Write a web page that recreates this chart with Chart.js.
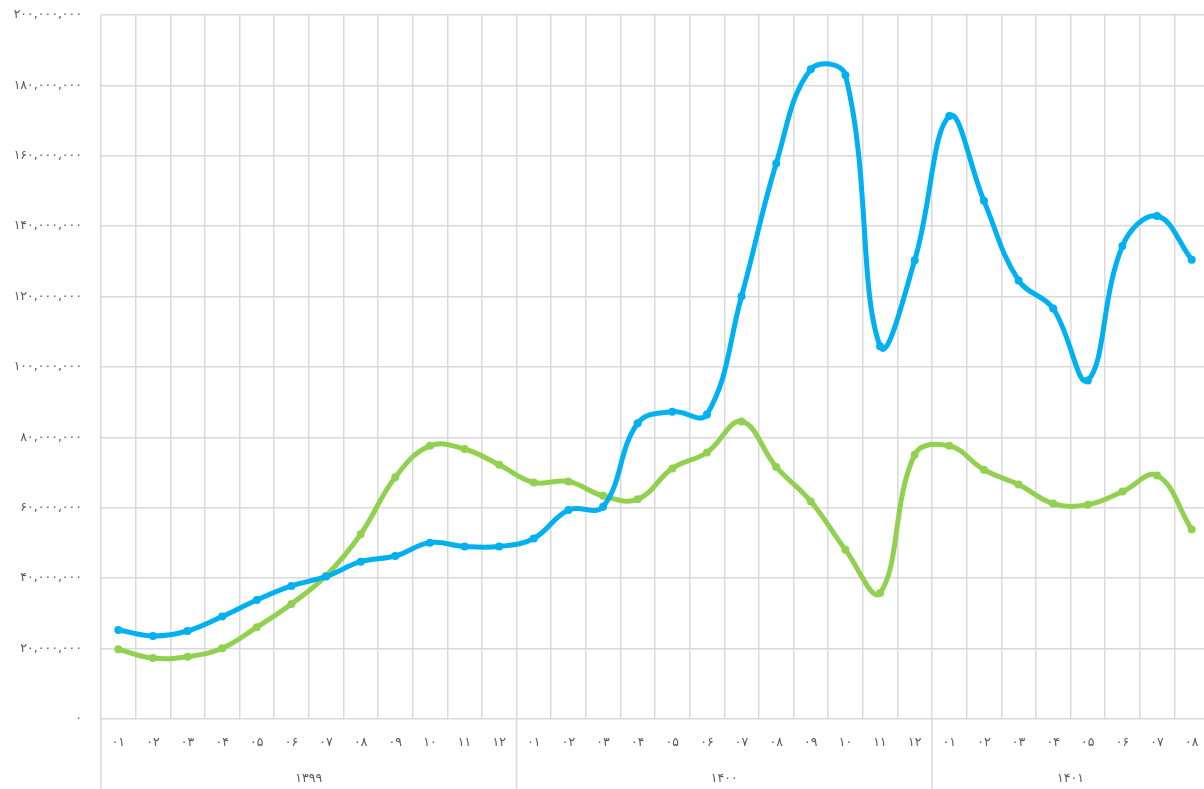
<!DOCTYPE html>
<html>
<head>
<meta charset="utf-8">
<script src="https://cdn.jsdelivr.net/npm/chart.js@4.4.1/dist/chart.umd.min.js"></script>
<style>
  html, body { margin: 0; padding: 0; background: #ffffff; overflow: hidden; }
  #wrap { width: 1204px; height: 789px; overflow: hidden; position: relative; }
  canvas { display: block; }
</style>
</head>
<body>
<div id="wrap"><canvas id="c" width="1209" height="789"></canvas></div>
<script>
// ---- data ----
const monthLabels = [
  '۰۱','۰۲','۰۳','۰۴','۰۵','۰۶','۰۷','۰۸','۰۹','۱۰','۱۱','۱۲',
  '۰۱','۰۲','۰۳','۰۴','۰۵','۰۶','۰۷','۰۸','۰۹','۱۰','۱۱','۱۲',
  '۰۱','۰۲','۰۳','۰۴','۰۵','۰۶','۰۷','۰۸'
];
const groupLabels = ['۱۳۹۹', '۱۴۰۰', '۱۴۰۱'];
const groupSizes = [12, 12, 8];

const blueValues = [
  25300000, 23600000, 25000000, 29100000, 33800000, 37800000, 40500000, 44700000,
  46300000, 50100000, 49000000, 49000000, 51300000, 59400000, 60300000, 84000000,
  87300000, 86500000, 120100000, 157800000, 184600000, 182900000, 105900000, 130300000,
  171300000, 147200000, 124600000, 116600000, 96200000, 134400000, 142900000, 130500000
];
const greenValues = [
  19800000, 17300000, 17700000, 20100000, 26100000, 32700000, 40700000, 52500000,
  68700000, 77600000, 76700000, 72200000, 67200000, 67500000, 63400000, 62400000,
  71200000, 75700000, 84500000, 71600000, 61800000, 48100000, 35800000, 75100000,
  77600000, 70800000, 66600000, 61200000, 60900000, 64600000, 69200000, 53800000
];
const yTickLabels = [
  '۰', '۲۰,۰۰۰,۰۰۰', '۴۰,۰۰۰,۰۰۰', '۶۰,۰۰۰,۰۰۰', '۸۰,۰۰۰,۰۰۰', '۱۰۰,۰۰۰,۰۰۰',
  '۱۲۰,۰۰۰,۰۰۰', '۱۴۰,۰۰۰,۰۰۰', '۱۶۰,۰۰۰,۰۰۰', '۱۸۰,۰۰۰,۰۰۰', '۲۰۰,۰۰۰,۰۰۰'
];
const yMax = 200000000;
const yStep = 20000000;

const FONT = "'DejaVu Sans', sans-serif";
const TEXT = '#595959';
const GRID = '#d9d9d9';

const groupPlugin = {
  id: 'groupPlugin',
  afterDraw(chart) {
    const x = chart.scales.x;
    const ctx = chart.ctx;
    const area = chart.chartArea;
    const w = x.getPixelForTick(1) - x.getPixelForTick(0);
    ctx.save();
    ctx.strokeStyle = GRID;
    ctx.lineWidth = 1.5;
    ctx.fillStyle = TEXT;
    ctx.font = '12.5px ' + FONT;
    ctx.textAlign = 'center';
    ctx.textBaseline = 'middle';
    let start = 0;
    for (let g = 0; g < groupSizes.length; g++) {
      const end = start + groupSizes[g] - 1;
      const left = x.getPixelForTick(start) - w / 2;
      const right = x.getPixelForTick(end) + w / 2;
      ctx.beginPath();
      ctx.moveTo(left, area.bottom);
      ctx.lineTo(left, chart.height);
      ctx.stroke();
      ctx.fillText(groupLabels[g], (left + right) / 2, area.bottom + 60);
      start = end + 1;
    }
    ctx.restore();
  }
};

new Chart(document.getElementById('c'), {
  type: 'line',
  data: {
    labels: monthLabels,
    datasets: [
      {
        label: 'blue',
        data: blueValues,
        borderColor: '#00b0f0',
        backgroundColor: '#00b0f0',
        borderWidth: 5,
        pointRadius: 4,
        pointBorderWidth: 0,
        pointBackgroundColor: '#00b0f0',
        tension: 0.4,
        fill: false,
        clip: false
      },
      {
        label: 'green',
        data: greenValues,
        borderColor: '#92d050',
        backgroundColor: '#92d050',
        borderWidth: 5,
        pointRadius: 4,
        pointBorderWidth: 0,
        pointBackgroundColor: '#92d050',
        tension: 0.4,
        fill: false,
        clip: false
      }
    ]
  },
  options: {
    responsive: false,
    animation: false,
    devicePixelRatio: 1,
    layout: { autoPadding: false, padding: { top: 15, right: 0, left: 0, bottom: 0 } },
    plugins: { legend: { display: false }, tooltip: { enabled: false } },
    scales: {
      x: {
        offset: true,
        grid: { offset: true, color: GRID, lineWidth: 1.5, drawTicks: false },
        border: { display: false },
        ticks: {
          color: TEXT,
          font: { family: FONT, size: 12.5 },
          padding: 16,
          maxRotation: 0,
          autoSkip: false
        },
        afterFit(scale) {
          scale.height = 70;
          scale.paddingLeft = 0;
          scale.paddingRight = 0;
        }
      },
      y: {
        min: 0,
        max: yMax,
        grid: { color: GRID, lineWidth: 1.5, drawTicks: false },
        border: { display: false },
        ticks: {
          stepSize: yStep,
          color: TEXT,
          font: { family: FONT, size: 12.5 },
          padding: 19,
          callback: (v, i) => yTickLabels[i]
        },
        afterFit(scale) {
          scale.width = 101;
          scale.paddingTop = 0;
          scale.paddingBottom = 0;
        }
      }
    }
  },
  plugins: [groupPlugin]
});
</script>
</body>
</html>
